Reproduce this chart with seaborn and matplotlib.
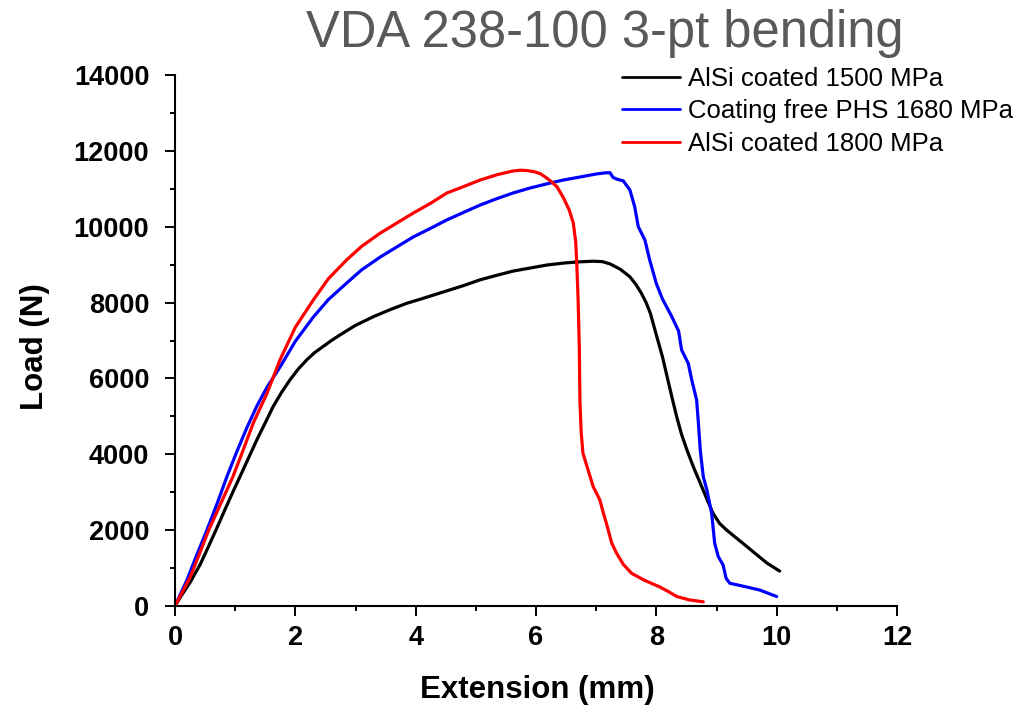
import numpy as np
import pandas as pd
import matplotlib
matplotlib.use("Agg")
import matplotlib.pyplot as plt
from matplotlib.ticker import MultipleLocator
import seaborn as sns

# ---- data ----
series_names = ["AlSi coated 1500 MPa", "Coating free PHS 1680 MPa", "AlSi coated 1800 MPa"]
series_colors = ["#000000", "#0000FF", "#FF0000"]

black_x = [0, 0.1, 0.25, 0.42, 0.56, 0.7, 0.83, 0.96, 1.1, 1.23, 1.36, 1.5, 1.63, 1.77, 1.91, 2.05,
           2.19, 2.32, 2.46, 2.6, 2.74, 3.0, 3.3, 3.57, 3.85, 4.12, 4.4, 4.8, 5.07, 5.35, 5.62,
           5.9, 6.18, 6.45, 6.68, 6.95, 7.1, 7.23, 7.4, 7.56, 7.66, 7.75, 7.83, 7.9, 8.01, 8.1, 8.18,
           8.26, 8.34, 8.42, 8.51, 8.62, 8.73, 8.84, 8.94, 9.05, 9.17, 9.34, 9.51, 9.67, 9.84, 10.05]
black_y = [0, 260, 620, 1100, 1580, 2070, 2540, 3000, 3480, 3930, 4380, 4830, 5255, 5630, 5960, 6250,
           6490, 6680, 6840, 7000, 7145, 7400, 7630, 7810, 7980, 8110, 8250, 8450, 8600, 8720, 8830,
           8910, 8990, 9040, 9070, 9090, 9080, 9020, 8880, 8680, 8480, 8250, 8000, 7720, 7090, 6580, 6040,
           5500, 4980, 4520, 4110, 3650, 3240, 2820, 2450, 2180, 2000, 1780, 1560, 1350, 1130, 920]

blue_x = [0, 0.2, 0.36, 0.53, 0.7, 0.86, 1.03, 1.2, 1.36, 1.53, 1.745, 2.0, 2.3, 2.55, 2.85, 3.1,
          3.41, 3.7, 3.96, 4.25, 4.52, 4.8, 5.07, 5.35, 5.62, 5.9, 6.18, 6.45, 6.73, 7.0, 7.15, 7.23,
          7.28, 7.35, 7.45, 7.56, 7.64, 7.7, 7.81, 7.89, 8.0, 8.1, 8.25, 8.37, 8.42, 8.53, 8.59, 8.67,
          8.7, 8.73, 8.78, 8.84, 8.92, 8.97, 9.03, 9.11, 9.16, 9.22, 9.45, 9.72, 10.0]
blue_y = [0, 690, 1340, 2000, 2700, 3400, 4080, 4720, 5270, 5770, 6300, 6980, 7620, 8080, 8510, 8860,
          9200, 9480, 9730, 9960, 10180, 10380, 10570, 10740, 10890, 11020, 11130, 11230, 11310, 11390, 11420, 11425,
          11300, 11250, 11210, 10970, 10530, 10000, 9650, 9120, 8500, 8100, 7650, 7250, 6750, 6400, 5950, 5430,
          4800, 4110, 3410, 3060, 2440, 1650, 1300, 1080, 730, 600, 520, 420, 250]

red_x = [0, 0.25, 0.4, 0.56, 0.76, 0.96, 1.13, 1.3, 1.53, 1.745, 2.0, 2.3, 2.55, 2.85, 3.1, 3.41,
         3.7, 3.96, 4.25, 4.52, 4.8, 5.07, 5.35, 5.62, 5.75, 5.85, 5.97, 6.07, 6.18, 6.27, 6.35, 6.45,
         6.55, 6.62, 6.66, 6.68, 6.7, 6.72, 6.73, 6.75, 6.78, 6.95, 7.06, 7.12, 7.17, 7.26, 7.34, 7.45,
         7.59, 7.8, 8.06, 8.2, 8.34, 8.55, 8.78]
red_y = [0, 750, 1350, 2000, 2700, 3400, 4100, 4820, 5610, 6490, 7350, 8070, 8630, 9120, 9480, 9830,
         10110, 10360, 10620, 10890, 11060, 11230, 11370, 11470, 11490, 11480, 11450, 11400, 11280, 11170, 11050, 10780,
         10450, 10100, 9600, 8940, 8070, 6800, 5430, 4600, 4030, 3150, 2800, 2450, 2180, 1650, 1390, 1100,
         860, 680, 500, 380, 250, 160, 110]

x_ticks = [0, 2, 4, 6, 8, 10, 12]
y_ticks = [0, 2000, 4000, 6000, 8000, 10000, 12000, 14000]

title_text = "VDA 238-100 3-pt bending"
x_label = "Extension (mm)"
y_label = "Load (N)"

# ---- long-form table ----
frames = []
for name, xs, ys in zip(series_names, [black_x, blue_x, red_x], [black_y, blue_y, red_y]):
    frames.append(pd.DataFrame({"Extension": xs, "Load": ys, "Series": name, "order": range(len(xs))}))
df = pd.concat(frames, ignore_index=True)

sns.set_theme(style="ticks")
plt.rcParams["font.family"] = ["Liberation Sans", "DejaVu Sans"]
for k in ["text.color", "axes.labelcolor", "xtick.color", "ytick.color", "axes.edgecolor"]:
    plt.rcParams[k] = "black"

fig = plt.figure(figsize=(10.24, 7.10), dpi=100)
fig.patch.set_facecolor("white")
ax = fig.add_axes([175 / 1024, 1 - 606 / 710, (897 - 175) / 1024, (606 - 75) / 710])
ax.set_facecolor("none")

sns.lineplot(data=df, x="Extension", y="Load", hue="Series", hue_order=series_names,
             palette=dict(zip(series_names, series_colors)), sort=False, estimator=None,
             units="Series", linewidth=2.3, ax=ax, legend=True,
             solid_joinstyle="round", solid_capstyle="round")

ax.set_xlim(0, 12)
ax.set_ylim(0, 14000)
ax.set_xticks(x_ticks)
ax.set_yticks(y_ticks)
ax.xaxis.set_minor_locator(MultipleLocator(1))
ax.yaxis.set_minor_locator(MultipleLocator(1000))
ax.set_xticklabels([str(v) for v in x_ticks], fontsize=19.5, fontweight="bold")
ax.set_yticklabels([str(v) for v in y_ticks], fontsize=19.5, fontweight="bold")
ax.tick_params(which="major", direction="out", length=7.5, width=1.4, color="black", labelcolor="black")
ax.tick_params(axis="x", which="major", pad=6)
ax.tick_params(axis="y", which="major", pad=11)
ax.tick_params(which="minor", direction="out", length=3.8, width=1.4, color="black")
for s in ["top", "right"]:
    ax.spines[s].set_visible(False)
for s in ["left", "bottom"]:
    ax.spines[s].set_linewidth(1.5)
    ax.spines[s].set_color("black")

ax.set_xlabel(x_label, fontsize=22.5, fontweight="bold", color="black")
ax.set_ylabel(y_label, fontsize=22.5, fontweight="bold", color="black")
ax.xaxis.set_label_coords((537 - 175) / 722, (606 - 690) / 531)
ax.xaxis.label.set_va("center")
ax.yaxis.set_label_coords((35 - 175) / 722, (606 - 347) / 531)
ax.yaxis.label.set_va("center")

leg = ax.legend(loc="upper left", bbox_to_anchor=(622 / 1024, 1 - 67 / 710),
                bbox_transform=fig.transFigure, frameon=False, fontsize=18.5,
                handlelength=2.26, handletextpad=0.31, labelspacing=0.33, borderpad=0,
                borderaxespad=0)
for line in leg.get_lines():
    line.set_linewidth(2.0)
for t in leg.get_texts():
    t.set_color("black")

fig.text(605 / 1024, 1 - 47 / 710, title_text, ha="center", va="baseline",
         fontsize=36.5, color="#595959", family=["Liberation Sans", "DejaVu Sans"])

fig.savefig("out.png", dpi=100, facecolor="white")
